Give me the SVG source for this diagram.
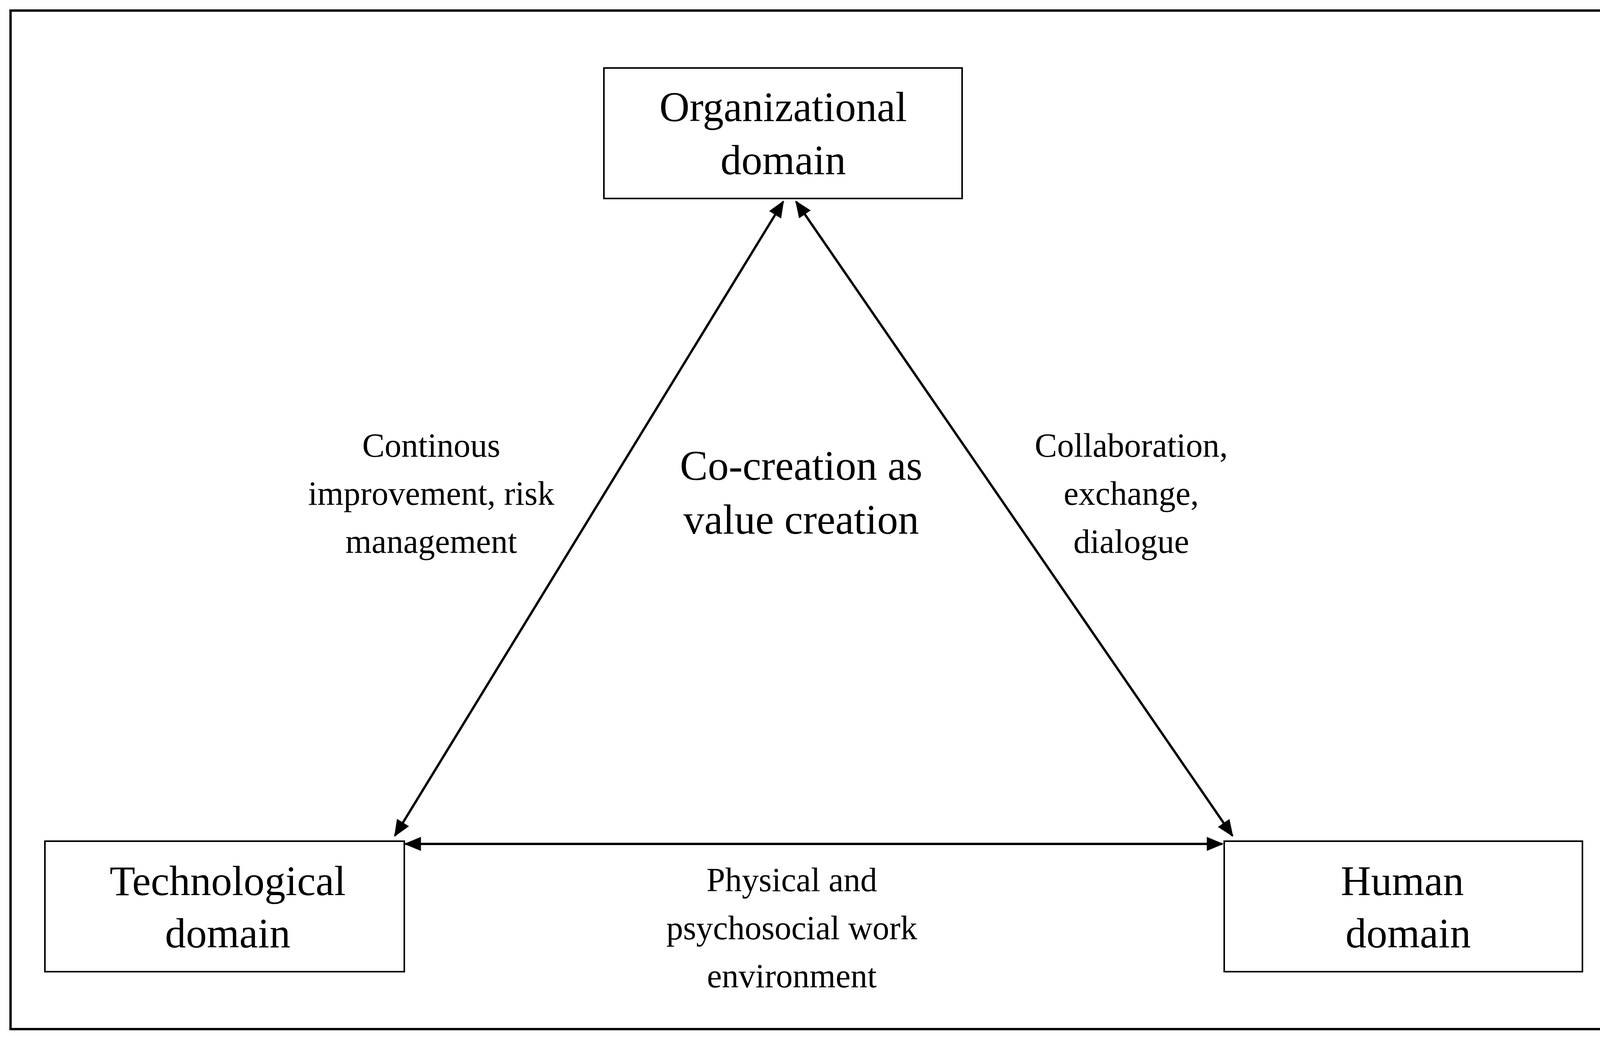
<svg xmlns="http://www.w3.org/2000/svg" width="4185" height="2667" viewBox="0 0 4185 2667">
<style>
.box{fill:#fff;stroke:#000;stroke-width:4}
.t{font-family:"Liberation Serif",serif;text-anchor:middle;fill:#000}
.big{font-size:107px}
.sm{font-size:86px}
.c{stroke:#000;stroke-width:6;fill:none;marker-start:url(#a);marker-end:url(#a)}
</style>
<defs>
<marker id="a" viewBox="0 0 12 10" refX="11" refY="5" markerWidth="8" markerHeight="6" orient="auto-start-reverse" markerUnits="strokeWidth">
<path d="M0,0 L12,5 L0,10 z" fill="#000"/>
</marker>
</defs>
<rect x="0" y="0" width="4185" height="2667" fill="#fff"/>
<rect x="27" y="27" width="4131" height="2607" fill="none" stroke="#000" stroke-width="6"/>
<g id="connectors">
<line class="c" x1="1011" y1="2139" x2="2005" y2="516"/>
<line class="c" x1="2038" y1="516" x2="3155" y2="2139"/>
<line class="c" x1="1038" y1="2160" x2="3129" y2="2160"/>
</g>
<g id="org"><rect class="box" x="1546" y="174" width="917" height="334"/>
<text class="t big" x="2005" y="310">Organizational</text><text class="t big" x="2005" y="446">domain</text></g>
<g id="tech"><rect class="box" x="115" y="2153" width="920" height="334"/>
<text class="t big" x="583" y="2291">Technological</text><text class="t big" x="583" y="2425">domain</text></g>
<g id="human"><rect class="box" x="3134" y="2153" width="917" height="334"/>
<text class="t big" x="3590" y="2291">Human</text><text class="t big" x="3605" y="2425">domain</text></g>
<g id="labels">
<text class="t sm" x="1104" y="1169">Continous</text>
<text class="t sm" x="1104" y="1292">improvement, risk</text>
<text class="t sm" x="1104" y="1415">management</text>
<text class="t big" x="2051" y="1228">Co-creation as</text>
<text class="t big" x="2051" y="1366">value creation</text>
<text class="t sm" x="2896" y="1169">Collaboration,</text>
<text class="t sm" x="2896" y="1292">exchange,</text>
<text class="t sm" x="2896" y="1415">dialogue</text>
<text class="t sm" x="2027" y="2281">Physical and</text>
<text class="t sm" x="2027" y="2404">psychosocial work</text>
<text class="t sm" x="2027" y="2527">environment</text>
</g>
</svg>
